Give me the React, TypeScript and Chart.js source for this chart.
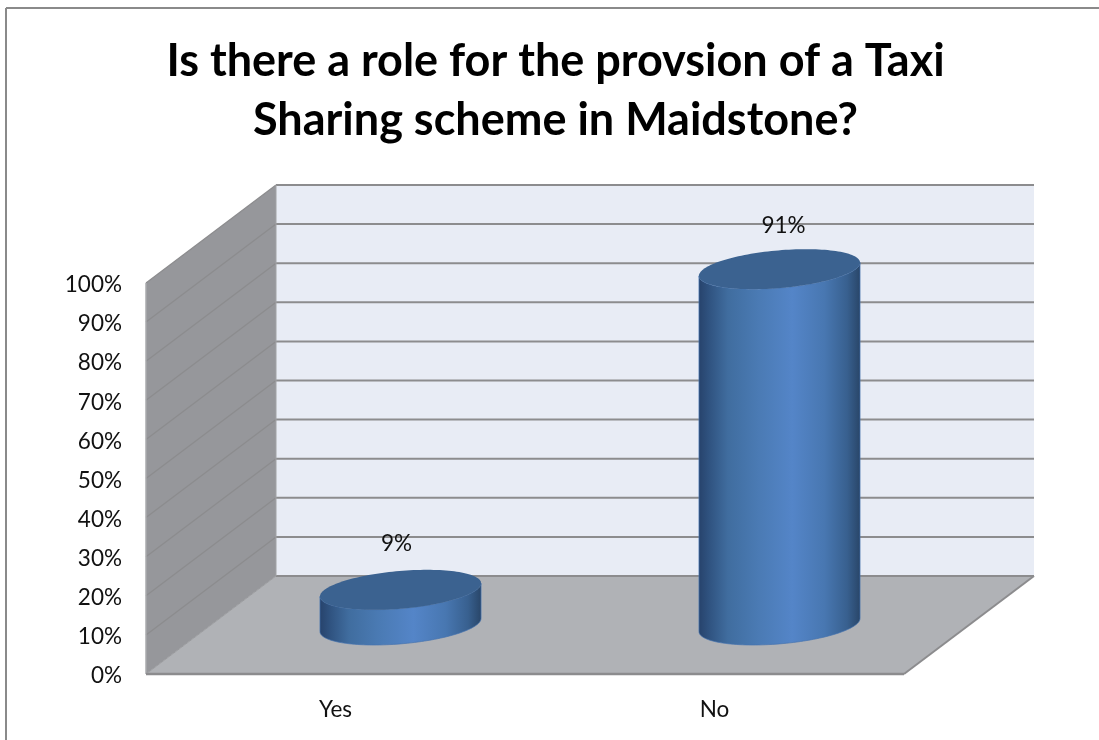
import { useEffect, useRef } from "react";
import { Chart, registerables } from "chart.js";

Chart.register(...registerables);

const categories = ["Yes", "No"];
const shares = [9, 91];
const titleLines = ["Is there a role for the provsion of a Taxi", "Sharing scheme in Maidstone?"];

const FONT = "Lato, Carlito, 'Open Sans', sans-serif";
// Receding direction of the 3D box, in pixels from the front plane to the back wall.
const DEPTH_X = 130;
const DEPTH_Y = -98;
const ELLIPSE_MINOR = 20;
// Value label placement relative to the centre of each cap.
const LABEL_SHIFT = [
  [-4, -46],
  [4, -43.5],
];

const FRAME = "#8a8a8a";
const BACK_WALL = "#e8ecf5";
const SIDE_WALL = "#96979b";
const FLOOR = "#b0b2b6";
const GRID = "#8c8c8e";
const CYL_TOP = "#3b6290";

const boxPlugin = {
  id: "box3d",
  beforeDatasetsDraw(chart: any) {
    const { ctx, scales } = chart;
    const x = scales.x;
    const y = scales.y;
    const left = x.left;
    const right = x.right;
    const y0 = y.getPixelForValue(0);
    const y100 = y.getPixelForValue(100);

    const poly = (pts: number[][], fill?: string) => {
      ctx.beginPath();
      pts.forEach(([a, b], i) => (i ? ctx.lineTo(a, b) : ctx.moveTo(a, b)));
      ctx.closePath();
      if (fill) {
        ctx.fillStyle = fill;
        ctx.fill();
      }
    };
    const line = (x1: number, y1: number, x2: number, y2: number, color: string, w: number) => {
      ctx.beginPath();
      ctx.moveTo(x1, y1);
      ctx.lineTo(x2, y2);
      ctx.strokeStyle = color;
      ctx.lineWidth = w;
      ctx.stroke();
    };

    ctx.save();
    // Chart frame: only the top and left edges are inside the page.
    line(6, 8, chart.width, 8, FRAME, 2);
    line(6, 8, 6, chart.height, FRAME, 2);

    // Walls and floor
    poly(
      [
        [left + DEPTH_X, y100 + DEPTH_Y],
        [right + DEPTH_X, y100 + DEPTH_Y],
        [right + DEPTH_X, y0 + DEPTH_Y],
        [left + DEPTH_X, y0 + DEPTH_Y],
      ],
      BACK_WALL
    );
    poly(
      [
        [left, y100],
        [left + DEPTH_X, y100 + DEPTH_Y],
        [left + DEPTH_X, y0 + DEPTH_Y],
        [left, y0],
      ],
      SIDE_WALL
    );
    poly(
      [
        [left, y0],
        [left + DEPTH_X, y0 + DEPTH_Y],
        [right + DEPTH_X, y0 + DEPTH_Y],
        [right, y0],
      ],
      FLOOR
    );

    // Gridlines run along the side wall and across the back wall.
    y.ticks.forEach((t: any) => {
      const py = y.getPixelForValue(t.value);
      if (t.value > 0) {
        line(left, py, left + DEPTH_X, py + DEPTH_Y, GRID, 1.3);
        line(left + DEPTH_X, py + DEPTH_Y, right + DEPTH_X, py + DEPTH_Y, GRID, 2);
      }
    });
    line(left + DEPTH_X, y0 + DEPTH_Y, right + DEPTH_X, y0 + DEPTH_Y, GRID, 2);
    line(left + DEPTH_X, y100 + DEPTH_Y, left + DEPTH_X, y0 + DEPTH_Y, "#a2a3a6", 1);
    line(left, y100, left, y0, "#a9aaad", 1.5);
    line(left, y0, left + DEPTH_X, y0 + DEPTH_Y, "#9a9b9e", 1);
    line(left, y0, right, y0, GRID, 2.5);
    line(right, y0, right + DEPTH_X, y0 + DEPTH_Y, GRID, 2);
    ctx.restore();
  },
  afterDatasetsDraw(chart: any) {
    const { ctx } = chart;
    const meta = chart.getDatasetMeta(0);
    const ratio = DEPTH_X / DEPTH_Y;

    meta.data.forEach((bar: any, i: number) => {
      const r = bar.width / 2;
      const cx = bar.x + DEPTH_X / 2;
      const topY = bar.y + DEPTH_Y / 2;
      const baseY = bar.base + DEPTH_Y / 2;
      const c = ELLIPSE_MINOR;
      const b = Math.abs(c * ratio);
      const a = Math.sqrt(r * r - b * b);
      const t0 = Math.atan2(b, a);
      const pt = (t: number, oy: number) => [cx + a * Math.cos(t) + b * Math.sin(t), oy - c * Math.sin(t)];
      const STEPS = 72;

      ctx.save();
      // Curved side: down the left silhouette, along the near half of the base, up the right.
      ctx.beginPath();
      const start = pt(t0 + Math.PI, topY);
      ctx.moveTo(start[0], start[1]);
      for (let s = 0; s <= STEPS; s++) {
        const p = pt(t0 + Math.PI + (Math.PI * s) / STEPS, baseY);
        ctx.lineTo(p[0], p[1]);
      }
      for (let s = 0; s <= STEPS; s++) {
        const p = pt(t0 + 2 * Math.PI - (Math.PI * s) / STEPS, topY);
        ctx.lineTo(p[0], p[1]);
      }
      ctx.closePath();
      const g = ctx.createLinearGradient(cx - r, 0, cx + r, 0);
      g.addColorStop(0, "#27436c");
      g.addColorStop(0.06, "#2f527f");
      g.addColorStop(0.18, "#406d9f");
      g.addColorStop(0.36, "#4a7ab3");
      g.addColorStop(0.58, "#5485c8");
      g.addColorStop(0.78, "#4877b1");
      g.addColorStop(0.92, "#38608f");
      g.addColorStop(1, "#294669");
      ctx.fillStyle = g;
      ctx.fill();
      ctx.strokeStyle = "rgba(70,115,175,0.7)";
      ctx.lineWidth = 1;
      ctx.stroke();

      // Top cap
      ctx.beginPath();
      for (let s = 0; s <= STEPS * 2; s++) {
        const p = pt((Math.PI * s) / STEPS, topY);
        if (s) ctx.lineTo(p[0], p[1]);
        else ctx.moveTo(p[0], p[1]);
      }
      ctx.closePath();
      ctx.fillStyle = CYL_TOP;
      ctx.fill();

      // Value label above the cap
      ctx.fillStyle = "#111";
      ctx.font = `22.5px ${FONT}`;
      ctx.textAlign = "center";
      ctx.textBaseline = "middle";
      ctx.fillText(`${shares[i]}%`, cx + LABEL_SHIFT[i][0], topY + LABEL_SHIFT[i][1]);
      ctx.restore();
    });
  },
};

export default function App() {
  const ref = useRef<HTMLCanvasElement>(null);

  useEffect(() => {
    const chart = new Chart(ref.current as HTMLCanvasElement, {
      type: "bar",
      data: {
        labels: categories,
        datasets: [
          {
            data: shares,
            backgroundColor: "rgba(0,0,0,0)",
            barPercentage: 0.425,
            categoryPercentage: 1,
          },
        ],
      },
      options: {
        responsive: false,
        animation: false,
        layout: { padding: { left: 12, right: 0, top: 0, bottom: 0 } },
        plugins: {
          legend: { display: false },
          tooltip: { enabled: false },
          title: {
            display: true,
            text: titleLines,
            color: "#000",
            font: { family: FONT, size: 45, weight: "bold", lineHeight: 59 / 45 },
            padding: { top: 32, bottom: 133 },
          },
        },
        scales: {
          x: {
            grid: { display: false, drawTicks: false },
            border: { display: false },
            ticks: { color: "#111", font: { family: FONT, size: 22.5 }, padding: 22 },
            afterFit: (s: any) => {
              s.height = 66;
            },
          },
          y: {
            min: 0,
            max: 100,
            grid: { display: false, drawTicks: false },
            border: { display: false },
            ticks: {
              stepSize: 10,
              color: "#111",
              font: { family: FONT, size: 22.5 },
              padding: 24,
              labelOffset: 2,
              callback: (v: any) => `${v}%`,
            },
            afterFit: (s: any) => {
              s.width = 134;
            },
          },
          // Empty gutter on the right that leaves room for the receding floor and back wall.
          gutter: {
            type: "linear",
            position: "right",
            grid: { display: false, drawTicks: false },
            border: { display: false },
            ticks: { display: false },
            afterFit: (s: any) => {
              s.width = 195;
            },
          },
        },
      },
      plugins: [boxPlugin],
    } as any);
    return () => chart.destroy();
  }, []);

  return (
    <div style={{ position: "fixed", left: 0, top: 0, background: "#fff" }}>
      <canvas ref={ref} width={1099} height={740} style={{ display: "block" }} />
    </div>
  );
}
